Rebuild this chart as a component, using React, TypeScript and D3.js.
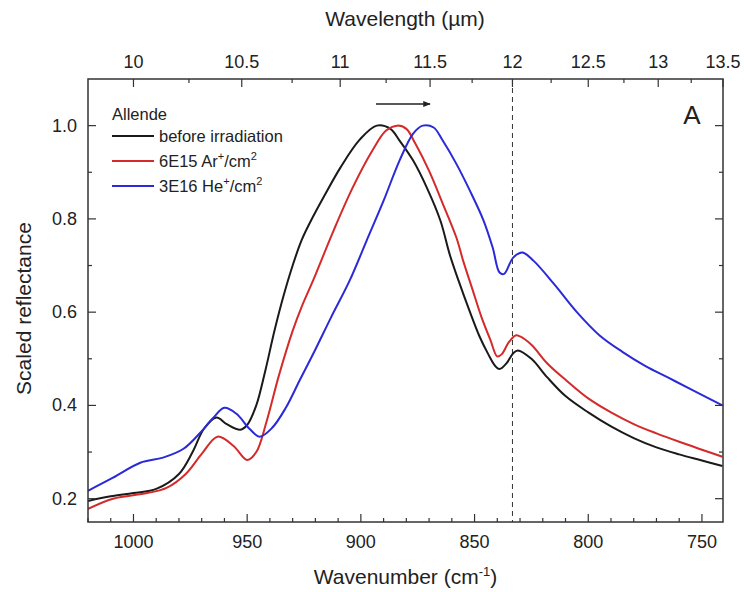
import React from 'react';
import * as d3 from 'd3';

const W = 744, H = 592;
const M = { l: 88, r: 723, t: 79, b: 522 };
const FONT = '"Liberation Sans", Arial, sans-serif';

// Wavenumber (cm^-1) / scaled reflectance
const wnBlack = [1020, 1010, 1000, 990, 980, 974, 969, 963.5, 959, 953, 950, 946, 942, 938, 934, 930, 926, 921, 916, 909, 900.5, 893, 887, 883, 877, 871, 865, 861, 857, 852, 848, 844, 841, 839, 836, 833, 831, 825, 818, 810, 800, 790, 780, 770, 760, 750, 741];
const valBlack = [0.195, 0.205, 0.212, 0.221, 0.253, 0.30, 0.35, 0.374, 0.36, 0.348, 0.358, 0.40, 0.475, 0.56, 0.635, 0.70, 0.755, 0.805, 0.85, 0.91, 0.97, 1.0, 0.993, 0.968, 0.925, 0.867, 0.796, 0.725, 0.667, 0.60, 0.55, 0.51, 0.485, 0.478, 0.49, 0.512, 0.518, 0.50, 0.46, 0.42, 0.385, 0.355, 0.33, 0.31, 0.295, 0.282, 0.27];

const wnRed = [1020, 1009, 994, 985.5, 977, 970, 963, 956, 950, 946, 941.5, 936, 930, 926, 921, 912, 903.6, 895, 889, 884, 880, 876, 870, 864, 858, 855, 851, 847, 843, 840, 838, 835, 832, 830, 825, 818, 810, 800, 790, 780, 770, 760, 750, 741];
const valRed = [0.178, 0.20, 0.212, 0.223, 0.253, 0.296, 0.333, 0.313, 0.283, 0.30, 0.365, 0.465, 0.56, 0.612, 0.668, 0.775, 0.867, 0.946, 0.989, 1.0, 0.993, 0.961, 0.903, 0.833, 0.76, 0.71, 0.65, 0.59, 0.54, 0.505, 0.51, 0.535, 0.55, 0.548, 0.53, 0.49, 0.455, 0.415, 0.385, 0.36, 0.34, 0.322, 0.305, 0.29];

const wnBlue = [1020, 1009, 997, 987, 978, 970, 965, 960, 954.7, 949, 944.5, 939, 933, 927, 920, 913, 905, 897.5, 890, 883, 877, 872.8, 868, 864, 858, 852, 846, 842, 839, 837, 833, 829, 824, 815, 805, 795, 785, 775, 765, 755, 741];
const valBlue = [0.217, 0.245, 0.277, 0.288, 0.307, 0.345, 0.373, 0.395, 0.382, 0.35, 0.333, 0.352, 0.395, 0.453, 0.52, 0.59, 0.667, 0.753, 0.839, 0.925, 0.983, 1.0, 0.996, 0.968, 0.918, 0.86, 0.796, 0.738, 0.685, 0.682, 0.717, 0.728, 0.71, 0.66, 0.60, 0.55, 0.515, 0.485, 0.46, 0.435, 0.40];

const seriesNames = ['before irradiation', '6E15 Ar', '3E16 He'];
const seriesColors = ['#1a1a1a', '#d42a2a', '#2a2ad8'];

const xTicksBottom = [1000, 950, 900, 850, 800, 750];
const xTicksTop = [10, 10.5, 11, 11.5, 12, 12.5, 13, 13.5];
const yTicks = [0.2, 0.4, 0.6, 0.8, 1.0];
const markerWavelength = 12;

export default function App() {
  const x = d3.scaleLinear().domain([1020, 10000 / 13.5]).range([M.l, M.r]);
  const y = d3.scaleLinear().domain([0.15, 1.1]).range([M.b, M.t]);
  const line = d3.line<[number, number]>().x(d => x(d[0])).y(d => y(d[1])).curve(d3.curveCatmullRom.alpha(0.5));

  const series = [
    { wn: wnBlack, v: valBlack },
    { wn: wnRed, v: valRed },
    { wn: wnBlue, v: valBlue },
  ];

  const minorBottom = d3.range(750, 1021, 10);
  const minorTop = d3.range(10, 13.51, 0.25);
  const minorY = d3.range(0.2, 1.05, 0.1);

  const legendY = [136, 161, 186];

  return (
    <svg width={W} height={H} style={{ position: 'absolute', left: 0, top: 0, background: '#fff' }} fontFamily={FONT}>
      <defs>
        <clipPath id="plot"><rect x={M.l} y={M.t} width={M.r - M.l} height={M.b - M.t} /></clipPath>
        <marker id="arr" viewBox="0 0 10 10" refX="9" refY="5" markerWidth="5" markerHeight="5" orient="auto">
          <path d="M0,1 L10,5 L0,9 z" fill="#222" />
        </marker>
      </defs>

      {/* dashed marker line */}
      <line x1={x(10000 / markerWavelength)} x2={x(10000 / markerWavelength)} y1={M.t} y2={M.b} stroke="#333" strokeWidth={1} strokeDasharray="5,4" />

      {/* curves */}
      <g clipPath="url(#plot)">
        {series.map((s, i) => (
          <path key={i} d={line(s.wn.map((w, j) => [w, s.v[j]]) as [number, number][]) || ''} fill="none" stroke={seriesColors[i]} strokeWidth={2} strokeLinejoin="round" />
        ))}
      </g>

      {/* frame */}
      <rect x={M.l} y={M.t} width={M.r - M.l} height={M.b - M.t} fill="none" stroke="#333" strokeWidth={1.5} />

      {/* bottom ticks */}
      {minorBottom.map(t => (
        <line key={'bm' + t} x1={x(t)} x2={x(t)} y1={M.b} y2={M.b - (t % 50 === 0 ? 8 : 4)} stroke="#333" strokeWidth={1.2} />
      ))}
      {xTicksBottom.map(t => (
        <text key={'bl' + t} x={x(t)} y={M.b + 26} fontSize={18} textAnchor="middle" fill="#222">{t}</text>
      ))}

      {/* top ticks */}
      {minorTop.map(t => {
        const major = Math.abs(t * 2 - Math.round(t * 2)) < 1e-6;
        return <line key={'tm' + t} x1={x(10000 / t)} x2={x(10000 / t)} y1={M.t} y2={M.t + (major ? 8 : 4)} stroke="#333" strokeWidth={1.2} />;
      })}
      {xTicksTop.map(t => (
        <text key={'tl' + t} x={x(10000 / t)} y={M.t - 11} fontSize={18} textAnchor="middle" fill="#222">{t}</text>
      ))}

      {/* y ticks */}
      {minorY.map(t => {
        const major = Math.abs(t * 5 - Math.round(t * 5)) < 1e-6;
        return (
          <g key={'ym' + t}>
            <line x1={M.l} x2={M.l + (major ? 8 : 4)} y1={y(t)} y2={y(t)} stroke="#333" strokeWidth={1.2} />
            <line x1={M.r} x2={M.r - (major ? 8 : 4)} y1={y(t)} y2={y(t)} stroke="#333" strokeWidth={1.2} />
          </g>
        );
      })}
      {yTicks.map(t => (
        <text key={'yl' + t} x={M.l - 11} y={y(t) + 6} fontSize={18} textAnchor="end" fill="#222">{t.toFixed(1)}</text>
      ))}

      {/* axis titles */}
      <text x={(M.l + M.r) / 2} y={584} fontSize={21} textAnchor="middle" fill="#222">
        Wavenumber (cm<tspan dy={-8} fontSize={13}>-1</tspan><tspan dy={8}>)</tspan>
      </text>
      <text x={405} y={26} fontSize={21} textAnchor="middle" fill="#222">Wavelength (µm)</text>
      <text transform={`translate(31,${(M.t + M.b) / 2 + 8}) rotate(-90)`} fontSize={21} textAnchor="middle" fill="#222">Scaled reflectance</text>

      {/* legend */}
      <text x={112} y={120} fontSize={16.5} fill="#222">Allende</text>
      {seriesNames.map((n, i) => (
        <g key={'lg' + i}>
          <line x1={112} x2={154} y1={legendY[i]} y2={legendY[i]} stroke={seriesColors[i]} strokeWidth={2} />
          <text x={159} y={legendY[i] + 6} fontSize={16.5} fill="#222">
            {n}
            {i > 0 && (<><tspan dy={-7} fontSize={11}>+</tspan><tspan dy={7}>/cm</tspan><tspan dy={-7} fontSize={11}>2</tspan></>)}
          </text>
        </g>
      ))}

      {/* shift arrow */}
      <line x1={376} x2={430} y1={104} y2={104} stroke="#222" strokeWidth={1.5} markerEnd="url(#arr)" />

      {/* panel label */}
      <text x={692} y={124} fontSize={26} textAnchor="middle" fill="#222">A</text>
    </svg>
  );
}
